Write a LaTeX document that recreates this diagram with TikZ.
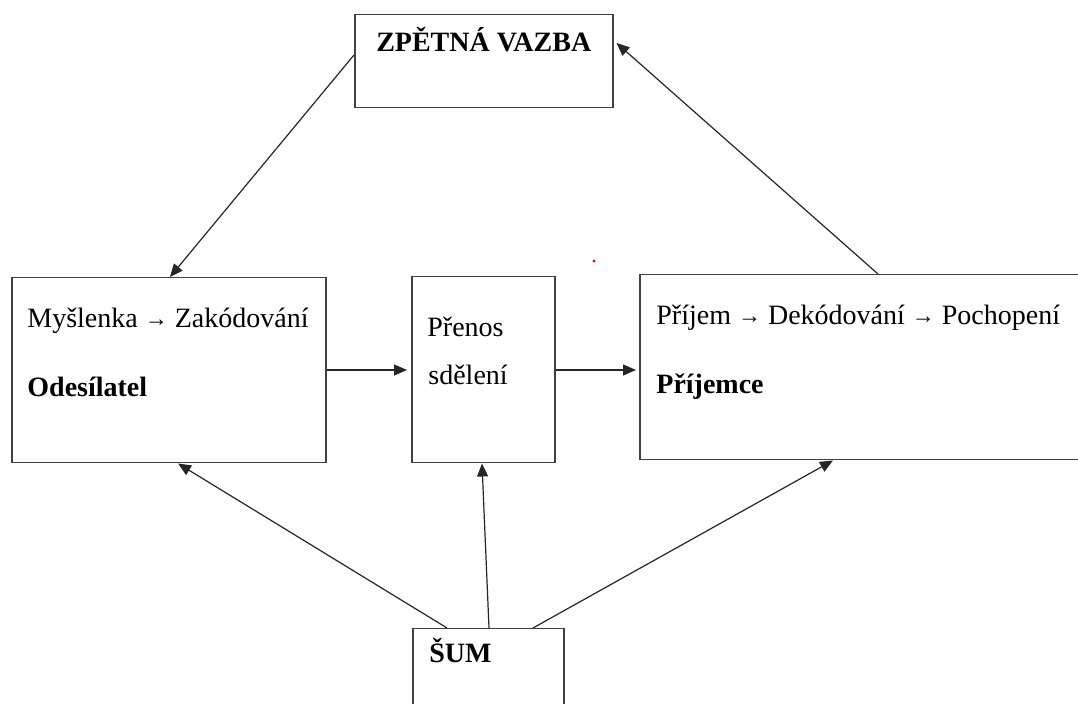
\documentclass[tikz,border=0pt]{standalone}
\usepackage{fontspec}
\setmainfont{Liberation Serif}
\usetikzlibrary{calc,arrows.meta}
\newcommand\sarr{\raisebox{0.9pt}{\fontsize{11.5}{12}\selectfont→}}
\tikzset{
  box/.style={draw=black!75,line width=0.75pt,inner sep=0pt,anchor=north west},
  txt/.style={inner sep=0pt,anchor=base west,font=\fontsize{14}{16}\selectfont},
  tip/.style={-{Triangle[length=6.5pt,width=5.5pt]},line width=0.6pt,black!85}
}
\begin{document}
\begin{tikzpicture}[x=0.5pt,y=-0.5pt]

\clip (0,0) rectangle (1078,704); % page
\fill[white] (0,0) rectangle (1078,704);
% boxes
\node[box,minimum width=129pt,minimum height=46.5pt] (zv) at (354,14) {};
\node[box,minimum width=157pt,minimum height=92.5pt] (odes) at (11,277) {};
\node[box,minimum width=71.5pt,minimum height=93pt] (pren) at (411,276) {};
\node[box,minimum width=230pt,minimum height=92.5pt] (prij) at (639,274) {};
\node[box,minimum width=75.5pt,minimum height=60pt] (sum) at (412,628) {};
% texts
\node[txt,anchor=base,font=\fontsize{14}{16}\selectfont\bfseries] (zvt) at ($(zv.north)+(0,38)$) {ZPĚTNÁ VAZBA};
\node[txt] (odes1) at ($(odes.north west)+(16,51)$) {Myšlenka \sarr{} Zakódování};
\node[txt,font=\fontsize{14}{16}\selectfont\bfseries] (odes2) at ($(odes.north west)+(16,120)$) {Odesílatel};
\node[txt] (pren1) at ($(pren.north west)+(16,61)$) {Přenos};
\node[txt] (pren2) at ($(pren.north west)+(17,109)$) {sdělení};
\node[txt] (prij1) at ($(prij.north west)+(17,51)$) {Příjem \sarr{} Dekódování \sarr{} Pochopení};
\node[txt,font=\fontsize{14}{16}\selectfont\bfseries] (prij2) at ($(prij.north west)+(17,120)$) {Příjemce};
\node[txt,font=\fontsize{14}{16}\selectfont\bfseries] (sumt) at ($(sum.north west)+(17,35)$) {ŠUM};
\fill[red] (594,261) circle (0.8pt);
% connectors
\draw[tip] ($(zv.north west)+(0,41)$) -- ($(odes.north west)+(159,0)$);
\draw[tip] ($(prij.north west)+(239,0)$) -- ($(zv.north east)+(3,29)$);
\draw[tip] (odes.east |- 0,370) -- ($(pren.west |- 0,370)+(-4,0)$);
\draw[tip] (pren.east |- 0,370) -- ($(prij.west |- 0,370)+(-3,0)$);
\draw[tip] ($(sum.north west)+(35,0)$) -- ($(odes.south west)+(167,0)$);
\draw[tip] ($(sum.north west)+(77,0)$) -- ($(pren.south west)+(71,0)$);
\draw[tip] ($(sum.north west)+(121,0)$) -- ($(prij.south west)+(194,0)$);
\end{tikzpicture}
\end{document}
